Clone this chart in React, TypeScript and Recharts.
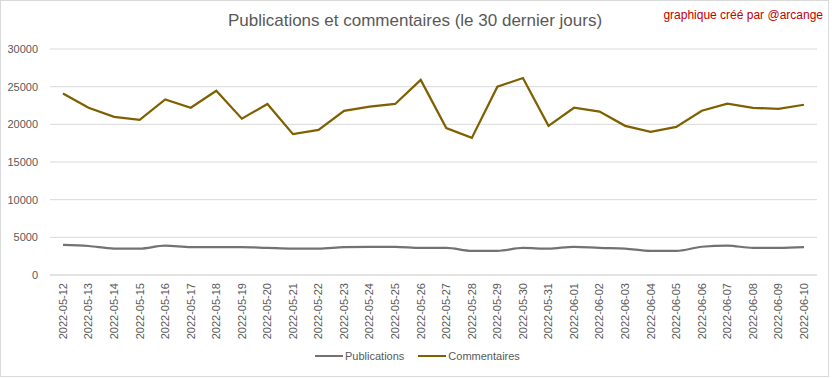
import React from 'react';
import { LineChart, Line, XAxis, YAxis, CartesianGrid } from 'recharts';

const days = [
  '2022-05-12', '2022-05-13', '2022-05-14', '2022-05-15', '2022-05-16', '2022-05-17',
  '2022-05-18', '2022-05-19', '2022-05-20', '2022-05-21', '2022-05-22', '2022-05-23',
  '2022-05-24', '2022-05-25', '2022-05-26', '2022-05-27', '2022-05-28', '2022-05-29',
  '2022-05-30', '2022-05-31', '2022-06-01', '2022-06-02', '2022-06-03', '2022-06-04',
  '2022-06-05', '2022-06-06', '2022-06-07', '2022-06-08', '2022-06-09', '2022-06-10',
];

const publications = [
  4000, 3850, 3500, 3500, 3900, 3700, 3700, 3700, 3600, 3500,
  3500, 3700, 3750, 3750, 3600, 3600, 3200, 3200, 3600, 3500,
  3750, 3600, 3500, 3200, 3200, 3750, 3900, 3600, 3600, 3700,
];

const commentaires = [
  24100, 22200, 21000, 20600, 23300, 22200, 24450, 20750, 22700, 18700,
  19250, 21800, 22350, 22700, 25900, 19500, 18200, 25000, 26150, 19800,
  22200, 21700, 19800, 19000, 19650, 21800, 22750, 22200, 22050, 22600,
];

const yTicks = [0, 5000, 10000, 15000, 20000, 25000, 30000];

const series = [
  { key: 'publications', name: 'Publications', color: '#767171', type: 'monotone' as const },
  { key: 'commentaires', name: 'Commentaires', color: '#7f6000', type: 'linear' as const },
];

const data = days.map((day, i) => ({
  day,
  publications: publications[i],
  commentaires: commentaires[i],
}));

const FONT = '"Liberation Sans", Arial, sans-serif';
const TEXT = '#595959';

const DayTick = (props: any) => {
  const { x, y, payload } = props;
  return (
    <g transform={`translate(${x},${y})`}>
      <text
        transform="rotate(-90)"
        textAnchor="end"
        dy="0.35em"
        fill={TEXT}
        fontSize={11}
        fontFamily={FONT}
      >
        {payload.value}
      </text>
    </g>
  );
};

export default function App() {
  return (
    <div style={{ position: 'absolute', left: 0, top: 0, width: 832, height: 378, background: '#fff', fontFamily: FONT }}>
      <div style={{ position: 'absolute', left: 0, top: 0, width: 827, height: 375, border: '1px solid #d9d9d9' }} />
      <div style={{ position: 'absolute', left: 0, width: 830, top: 11, textAlign: 'center', fontSize: 17, color: TEXT }}>
        Publications et commentaires (le 30 dernier jours)
      </div>
      <div style={{ position: 'absolute', right: 9, top: 8, fontSize: 12, color: '#c00000' }}>
        graphique créé par @arcange
      </div>
      <LineChart width={832} height={378} data={data} margin={{ top: 49, right: 15, left: 8, bottom: 33 }}>
        <CartesianGrid vertical={false} stroke="#d9d9d9" />
        <XAxis
          dataKey="day"
          interval={0}
          height={70}
          padding={{ left: 13, right: 13 }}
          tickLine={false}
          axisLine={{ stroke: '#d9d9d9' }}
          tick={<DayTick />}
        />
        <YAxis
          width={42}
          domain={[0, 30000]}
          ticks={yTicks}
          axisLine={false}
          tickLine={false}
          tickMargin={6}
          tick={{ fill: TEXT, fontSize: 11, fontFamily: FONT }}
        />
        {series.map((s) => (
          <Line
            key={s.key}
            type={s.type}
            dataKey={s.key}
            name={s.name}
            stroke={s.color}
            strokeWidth={2.25}
            dot={false}
            isAnimationActive={false}
          />
        ))}
      </LineChart>
      <div style={{ position: 'absolute', left: 315, top: 350, display: 'flex', fontSize: 11, color: TEXT }}>
        {series.map((s) => (
          <div key={s.key} style={{ display: 'flex', alignItems: 'center', marginRight: 14 }}>
            <span style={{ display: 'inline-block', width: 28, height: 2, background: s.color, marginRight: 2 }} />
            <span>{s.name}</span>
          </div>
        ))}
      </div>
    </div>
  );
}
